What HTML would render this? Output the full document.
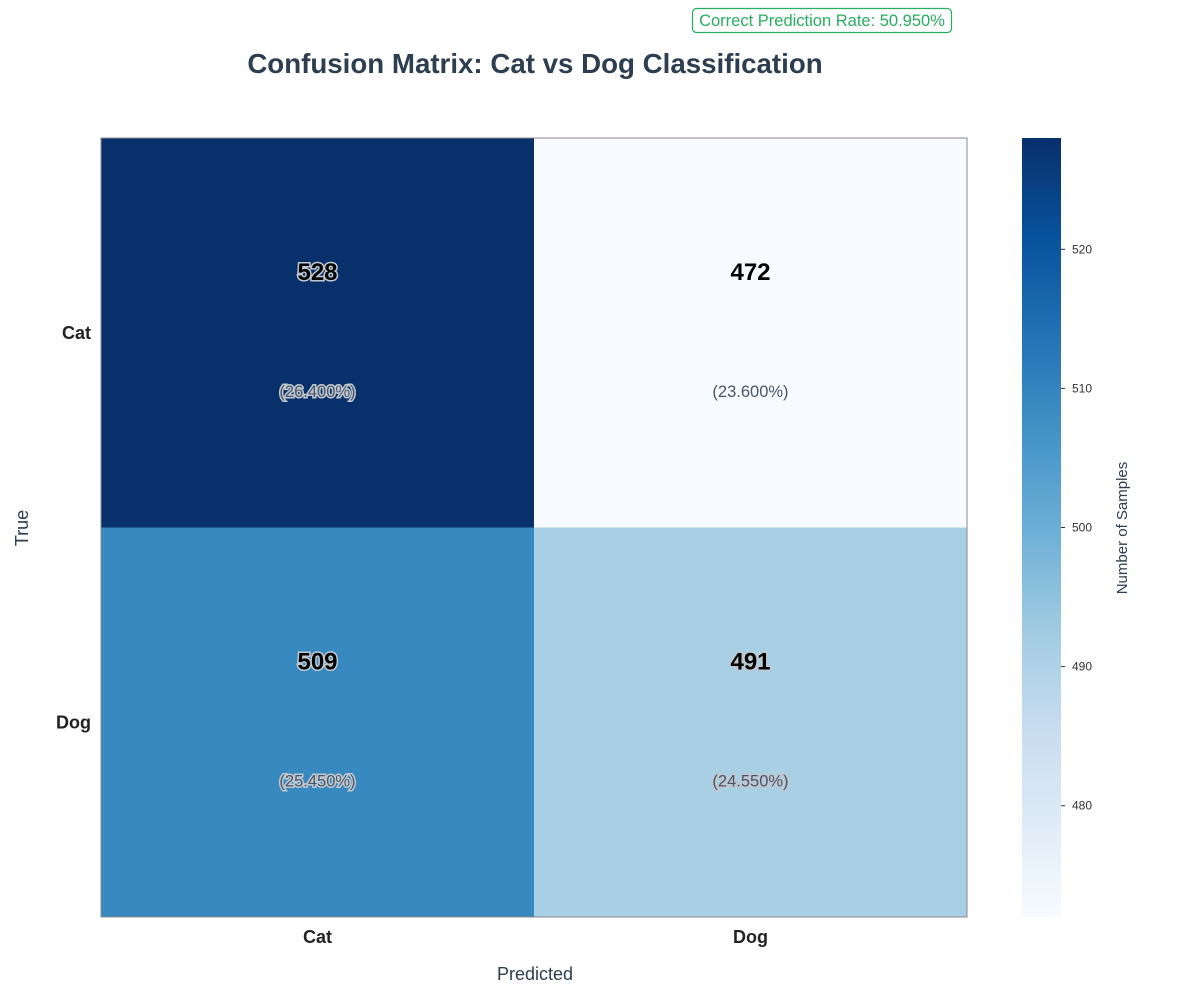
<!DOCTYPE html>
<html><head><meta charset="utf-8"><style>
body{margin:0;background:#fff;font-family:"Liberation Sans",Arial,sans-serif}
svg text{font-family:"Liberation Sans",Arial,sans-serif}
</style></head><body>
<svg id="chart" width="1200" height="1000" xmlns="http://www.w3.org/2000/svg">
<defs>
<linearGradient id="blues" x1="0" y1="1" x2="0" y2="0">
<stop offset="0" stop-color="#f7fbff"/><stop offset="0.125" stop-color="#deebf7"/><stop offset="0.25" stop-color="#c6dbef"/><stop offset="0.375" stop-color="#9ecae1"/><stop offset="0.5" stop-color="#6baed6"/><stop offset="0.625" stop-color="#4292c6"/><stop offset="0.75" stop-color="#2171b5"/><stop offset="0.875" stop-color="#08519c"/><stop offset="1" stop-color="#08306b"/>
</linearGradient>
</defs>
<text x="535" y="73" text-anchor="middle" font-size="27.7" font-weight="bold" fill="#2c3e50">Confusion Matrix: Cat vs Dog Classification</text>
<rect x="692.5" y="8.5" width="259" height="24" rx="4" fill="#fff" stroke="#27ae60" stroke-width="1.2"/>
<text x="822" y="26" text-anchor="middle" font-size="16.5" fill="#27ae60">Correct Prediction Rate: 50.950%</text>
<g id="cells"></g>
<rect x="101" y="138" width="866" height="779" fill="none" stroke="#888" stroke-width="1"/>
<text x="535" y="980" text-anchor="middle" font-size="18" fill="#2c3e50">Predicted</text>
<text transform="translate(28,528) rotate(-90)" text-anchor="middle" font-size="18" fill="#2c3e50">True</text>
<rect x="1022" y="138" width="39" height="779" fill="url(#blues)"/>
<g id="cbticks"></g>
<text transform="translate(1127,528) rotate(-90)" text-anchor="middle" font-size="15" fill="#2c3e50">Number of Samples</text>
</svg>
<script>
const categories = ["Cat","Dog"];
const counts = [[528,472],[509,491]];
const cbTicks = [480,490,500,510,520];
const total = counts.flat().reduce((a,b)=>a+b,0);
const vmin = Math.min(...counts.flat()), vmax = Math.max(...counts.flat());
const X0=101, Y0=138, W=866, H=779, CB0=138, CBH=779;
const stops=[[247,251,255],[222,235,247],[198,219,239],[158,202,225],[107,174,214],[66,146,198],[33,113,181],[8,81,156],[8,48,107]];
function blues(t){t=Math.max(0,Math.min(1,t));const p=t*8,i=Math.min(7,Math.floor(p)),f=p-i;const a=stops[i],b=stops[i+1];return `rgb(${a.map((v,k)=>Math.round(v+(b[k]-v)*f)).join(',')})`;}
function cbY(v){return CB0+CBH*(1-(v-vmin)/(vmax-vmin));}
const NS="http://www.w3.org/2000/svg";
const g=document.getElementById('cells');
const cw=W/categories.length, ch=H/categories.length;
function mk(tag,attrs,parent){const e=document.createElementNS(NS,tag);for(const k in attrs)e.setAttribute(k,attrs[k]);parent.appendChild(e);return e;}
counts.forEach((row,i)=>{row.forEach((v,j)=>{
  const t=(v-vmin)/(vmax-vmin);
  const r=mk('rect',{x:X0+j*cw,y:Y0+i*ch,width:cw,height:ch,fill:blues(t)},g);
  
  
  const cx=X0+j*cw+cw/2, cy=Y0+i*ch;
  const stroke = t>0.1 ? 'stroke:#c0c8d0;stroke-width:3;paint-order:stroke;' : '';
  const c=mk('text',{x:cx,y:cy+142,'text-anchor':'middle','font-size':'24','font-weight':'bold',fill:'#000',style:stroke},g);
  c.textContent=v;
  
  
  const p=mk('text',{x:cx,y:cy+259,'text-anchor':'middle','font-size':'16.5',fill:'#4a5568',style:stroke},g);
  p.textContent='('+(v/total*100).toFixed(3)+'%)';
  
  
});});
categories.forEach((c,i)=>{
  const xl=mk('text',{x:X0+i*cw+cw/2,y:943,'text-anchor':'middle','font-size':'18','font-weight':'bold',fill:'#222'},g);
  xl.textContent=c;
  
  
  const yl=mk('text',{x:91,y:Y0+i*ch+ch/2+6,'text-anchor':'end','font-size':'18','font-weight':'bold',fill:'#222'},g);
  yl.textContent=c;
  
  
});
const tg=document.getElementById('cbticks');
cbTicks.forEach(v=>{
  const y=cbY(v);
  const l=mk('line',{x1:1061,x2:1065,y1:y,y2:y,stroke:'#333'},tg);
  
  
  const t=mk('text',{x:1072,y:y+4,'font-size':'12',fill:'#333'},tg);
  t.textContent=v;
  
  
});
</script>
</body></html>
